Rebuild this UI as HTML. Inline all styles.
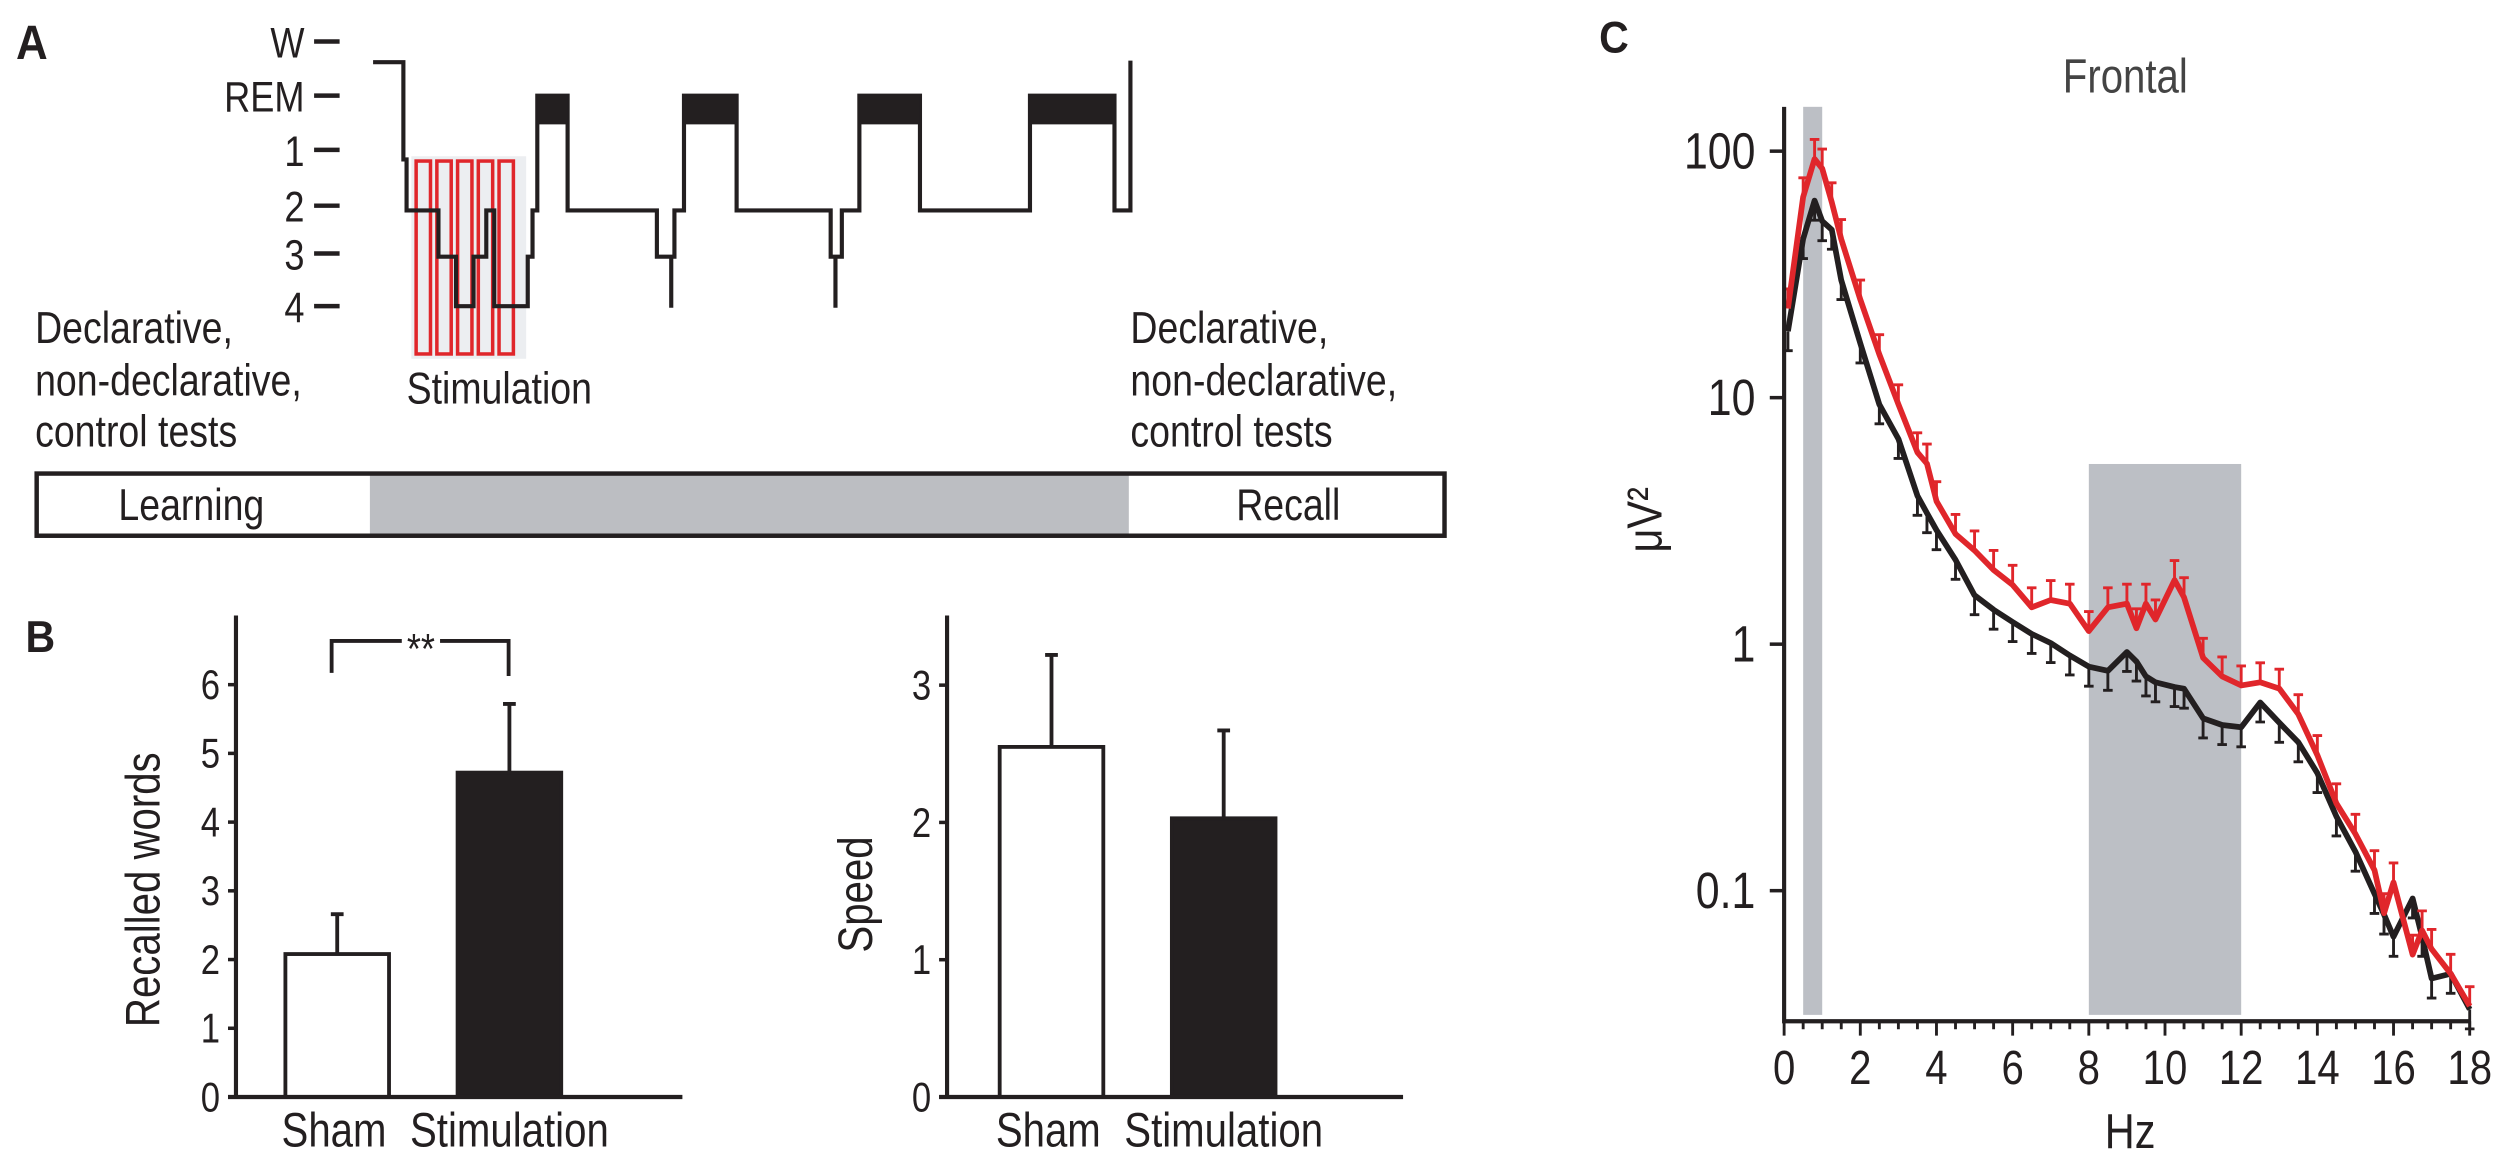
<!DOCTYPE html>
<html><head><meta charset="utf-8"><style>
html,body{margin:0;padding:0;background:#fff;}
svg{display:block;}
text{font-family:"Liberation Sans",sans-serif;fill:#231f20;}
</style></head><body>
<svg id="fig" xmlns="http://www.w3.org/2000/svg" width="2500" height="1152" viewBox="0 0 1568 722.5" preserveAspectRatio="none">
<!-- Panel A -->
<g>
<text x="10" y="37" class="nc" style="font-weight:bold;font-size:30px">A</text>
<g font-size="27" text-anchor="end">
<text x="191" y="36">W</text>
<text x="191" y="70">REM</text>
<text x="191" y="104">1</text>
<text x="191" y="139">2</text>
<text x="191" y="169">3</text>
<text x="191" y="202">4</text>
<path d="M197 26H213M197 60H213M197 94H213M197 129H213M197 159H213M197 192H213" stroke="#231f20" stroke-width="2.8"/>
</g>
<rect x="258" y="98" width="72" height="127" fill="#eceef1"/>
<g fill="none" stroke="#e0262b" stroke-width="2.2">
<rect x="261" y="101" width="9" height="121"/><rect x="274" y="101" width="9" height="121"/><rect x="287" y="101" width="9" height="121"/><rect x="300" y="101" width="9" height="121"/><rect x="313" y="101" width="9" height="121"/>
</g>
<path fill="none" stroke="#231f20" stroke-width="2.6" d="M234 39H253V100H255V132H275V161H286V192H297V161H305V132H310V192H331V161H334V132H337V60H356V132H412V161H421V193V161H423V132H429V60H462V132H521V161H524V193V161H528V132H539V60H577V132H646V60H699V132H709V38"/>
<g fill="#231f20">
<rect x="337" y="60" width="19" height="18"/><rect x="429" y="60" width="33" height="18"/><rect x="539" y="60" width="38" height="18"/><rect x="646" y="60" width="53" height="18"/>
</g>
<g font-size="28">
<text x="22" y="215">Declarative,</text><text x="22" y="248">non-declarative,</text><text x="22" y="280">control tests</text></g>
<text x="255" y="253" font-size="28">Stimulation</text>
<g font-size="28">
<text x="709" y="215">Declarative,</text><text x="709" y="248">non-declarative,</text><text x="709" y="280">control tests</text></g>
<g>
<rect x="232" y="297" width="476" height="39" fill="#bcbec2"/>
<rect x="23" y="297" width="883" height="39" fill="none" stroke="#231f20" stroke-width="2.8"/>
<text x="120" y="326" font-size="28" text-anchor="middle">Learning</text>
<text x="808" y="326" font-size="28" text-anchor="middle">Recall</text>
</g>
</g>
<!-- Panel B -->
<g id="panelB">
<text x="16" y="409" class="nc" style="font-weight:bold;font-size:28px">B</text>
</g>
<!-- Panel C -->
<g id="panelC">
<text x="1003" y="33" class="nc" style="font-weight:bold;font-size:28px">C</text>
<text x="1333" y="58" font-size="30" text-anchor="middle" style="fill:#444">Frontal</text>
<text x="1336" y="720" font-size="31" text-anchor="middle">Hz</text>
<text transform="translate(1042,326) rotate(-90)" font-size="31" text-anchor="middle">μV²</text>
</g>
</svg>
<script>
// ---- Panel B data ----
const bCategories = ["Sham", "Stimulation"];
const wordsValues = [2.08, 4.72];
const wordsErrors = [0.58, 1.0];
const speedValues = [2.55, 2.03];
const speedErrors = [0.67, 0.64];
const wordsTicks = [0, 1, 2, 3, 4, 5, 6];
const speedTicks = [0, 1, 2, 3];

// ---- Panel C data ----
const freqs = [0.1,0.5,0.8,1.0,1.25,1.5,2,2.5,3,3.5,3.75,4,4.5,5,5.5,6,6.5,7,7.5,8,8.5,9,9.25,9.5,9.75,10.25,10.5,11,11.5,12,12.5,13,13.5,14,14.5,15,15.5,15.75,16,16.5,16.75,17,17.5,18];
const stimPower = [23,65,93,85,62,44,25,15,9.4,6.0,5.4,3.8,2.8,2.4,2.0,1.74,1.41,1.51,1.46,1.13,1.41,1.46,1.16,1.46,1.26,1.82,1.55,0.88,0.74,0.68,0.70,0.66,0.52,0.355,0.226,0.17,0.121,0.081,0.108,0.055,0.069,0.058,0.046,0.034];
const shamPower = [18.6,44,63,52,48,30,16.6,9.4,6.8,4.0,3.4,2.9,2.2,1.58,1.38,1.23,1.10,1.01,0.90,0.81,0.78,0.93,0.85,0.74,0.70,0.67,0.66,0.50,0.47,0.46,0.58,0.48,0.40,0.30,0.20,0.144,0.097,0.08,0.065,0.093,0.065,0.044,0.046,0.033];
const hzTicks = [0,2,4,6,8,10,12,14,16,18];
const powerTicks = [0.1, 1, 10, 100];
const powerTickLabels = ["0.1", "1", "10", "100"];
const deltaBand = [0.5, 1.0];
const alphaBand = [8, 12];

const NS = "http://www.w3.org/2000/svg";
function mk(tag, attrs, parent){ const e=document.createElementNS(NS,tag); for(const k in attrs) e.setAttribute(k,attrs[k]); parent.appendChild(e); return e; }
const ink = "#231f20";

// ---- Panel B drawing ----
const pB = document.getElementById("panelB");
function barChart(cfg){
  const g = mk("g", {}, pB);
  
  
  const y = v => cfg.y0 - v * cfg.pxPer;
  cfg.values.forEach((v,i)=>{
    const x = cfg.barX[i];
    const cx = x + cfg.barW/2;
    const et = y(v + cfg.errors[i]);
    const ln = mk("path", {d:`M${cx} ${y(v)}V${et}M${cx-4} ${et}H${cx+4}`, stroke:ink, "stroke-width":2.4, fill:"none"}, g);
    
    
    const r = mk("rect", {x:x, y:y(v), width:cfg.barW, height:cfg.y0 - y(v), fill: i===0?"#fff":ink, stroke:ink, "stroke-width":2.4}, g);
    
    
    const t = mk("text", {x:cx + (i===0?-2:0), y:719, "font-size":30, "text-anchor":"middle"}, g);
    t.textContent = cfg.cats[i];
    
    
  });
  const ax = mk("path", {d:`M${cfg.axX} 386V${cfg.y0}M${cfg.axX-5} ${cfg.y0}H${cfg.xEnd}`, stroke:ink, "stroke-width":2.6, fill:"none"}, g);
  
  
  cfg.ticks.forEach(t=>{
    mk("path", {d:`M${cfg.axX-5} ${y(t)}H${cfg.axX}`, stroke:ink, "stroke-width":2.2}, g);
    const tx = mk("text", {x:cfg.axX-10, y:y(t)+9, "font-size":26, "text-anchor":"end"}, g);
    tx.textContent = t;
    
    
  });
  const yt = mk("text", {transform:`translate(${cfg.titleX},${cfg.titleY}) rotate(-90)`, "font-size":30, "text-anchor":"middle"}, g);
  yt.textContent = cfg.title;
  
  
  return {g, y};
}
const w = barChart({name:"recalled-words-chart", cats:bCategories, values:wordsValues, errors:wordsErrors, ticks:wordsTicks, y0:688, pxPer:43.1, axX:148, xEnd:428, barX:[179,287], barW:65, title:"Recalled words", titleX:100, titleY:558});
barChart({name:"speed-chart", cats:bCategories, values:speedValues, errors:speedErrors, ticks:speedTicks, y0:688, pxPer:86.1, axX:594, xEnd:880, barX:[627,735], barW:65, title:"Speed", titleX:547, titleY:561});
const br = mk("path", {d:"M208 422V402H252M276 402H319V424", stroke:ink, "stroke-width":2.4, fill:"none"}, w.g);


const st = mk("text", {x:264, y:416, "font-size":27, "text-anchor":"middle"}, w.g);
st.textContent = "**";



// ---- Panel C drawing ----
const pC = document.getElementById("panelC");
const xC = f => 1119 + f * (1549 - 1119) / 18;
const yC = v => 404 - 154.6 * Math.log10(v);
const bandTop = 67, axisY = 640.5;
const db = mk("rect", {x:xC(deltaBand[0]), y:bandTop, width:xC(deltaBand[1])-xC(deltaBand[0]), height:axisY-bandTop-4, fill:"#bcbfc5"}, pC);


const ab = mk("rect", {x:xC(alphaBand[0]), y:291, width:xC(alphaBand[1])-xC(alphaBand[0]), height:axisY-291-4, fill:"#bcbfc5"}, pC);


function series(vals, color, dir, name){
  const g = mk("g", {}, pC);
  
  
  let eb = "";
  freqs.forEach((f,i)=>{
    const x = xC(f), y0 = yC(vals[i]), y1 = yC(vals[i] * (dir>0 ? 1.2 : 1/1.2));
    eb += `M${x} ${y0}V${y1}M${x-3} ${y1}H${x+3}`;
  });
  const e = mk("path", {d:eb, stroke:color, "stroke-width":1.8, fill:"none"}, g);
  
  
  const d = freqs.map((f,i)=>(i?"L":"M")+xC(f).toFixed(1)+" "+yC(vals[i]).toFixed(1)).join("");
  const l = mk("path", {d:d, stroke:color, "stroke-width":3.6, fill:"none", "stroke-linejoin":"round"}, g);
  
  
}
series(shamPower, "#231f20", -1, "sham-series");
series(stimPower, "#e0262b", 1, "stimulation-series");
const axC = mk("path", {d:`M${xC(0)} ${bandTop}V${axisY}H${xC(18)}`, stroke:ink, "stroke-width":2.6, fill:"none"}, pC);


let minor = "";
for (let f = 0; f <= 18.001; f += 0.5) { minor += `M${xC(f)} ${axisY}V${axisY + (f % 2 === 0 ? 9 : 5)}`; }
mk("path", {d:minor, stroke:ink, "stroke-width":1.8}, pC);
hzTicks.forEach(t=>{
  const tx = mk("text", {x:xC(t), y:680, "font-size":30, "text-anchor":"middle"}, pC);
  tx.textContent = t;
  
  
});
powerTicks.forEach((t,i)=>{
  mk("path", {d:`M${xC(0)-9} ${yC(t)}H${xC(0)}`, stroke:ink, "stroke-width":2.2}, pC);
  const tx = mk("text", {x:1101, y:yC(t)+11, "font-size":32, "text-anchor":"end"}, pC);
  tx.textContent = powerTickLabels[i];
  
  
});

// condense text to mimic Helvetica Condensed
document.querySelectorAll("#fig text").forEach(t=>{
  const wdt = t.getComputedTextLength();
  const f = t.classList.contains("nc") ? 0.92 : 0.84;
  if (wdt > 0) { t.setAttribute("textLength", (wdt * f).toFixed(1)); t.setAttribute("lengthAdjust", "spacingAndGlyphs"); }
});
</script>
</body></html>
